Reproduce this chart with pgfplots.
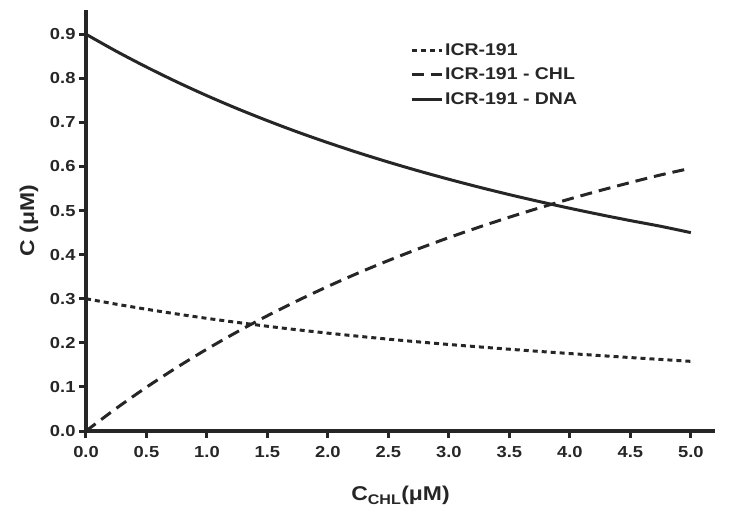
\documentclass[border=0pt]{standalone}
\usepackage{fontspec}
\setmainfont{Liberation Sans}[FakeStretch=1.15]
\usepackage{pgfplots}
\pgfplotsset{compat=1.18}
\definecolor{ink}{HTML}{262626}
\begin{document}
\begin{tikzpicture}
\useasboundingbox (-86bp,-85bp) rectangle (664bp,431bp);
\begin{axis}[
  scale only axis, width=629bp, height=421bp,
  xmin=0, xmax=5.2, ymin=0, ymax=0.955,
  axis lines=left, axis line style={-, line width=4.5bp, ink},
  xtick={0,0.5,...,5.0}, ytick={0,0.1,...,0.9},
  tick align=outside, major tick length=7bp,
  tick style={line width=3bp, ink},
  minor tick num=0,
  /pgf/number format/assume math mode=true,
  xticklabel style={font=\fontsize{16}{19}\selectfont\bfseries, text=ink, yshift=-5bp, /pgf/number format/.cd, fixed, fixed zerofill, precision=1},
  yticklabel style={font=\fontsize{16}{19}\selectfont\bfseries, text=ink, /pgf/number format/.cd, fixed, fixed zerofill, precision=1},
  xlabel={C\textsubscript{CHL}(μM)},
  ylabel={C (μM)},
  xlabel style={at={(axis description cs:0.5,-0.154)}, anchor=center, font=\fontsize{20}{24}\selectfont\bfseries, text=ink},
  ylabel style={at={(axis description cs:-0.0906,0.5)}, anchor=center, font=\fontsize{20}{24}\selectfont\bfseries, text=ink},
  legend style={draw=none, fill=none, at={(axis description cs:0.515,0.925)}, anchor=north west,
    font=\fontsize{17}{20}\selectfont\bfseries, text=ink, row sep=7bp, inner sep=0pt},
  legend cell align=left,
  legend image code/.code={\draw[#1] (0bp,0bp) -- (30bp,0bp);},
  clip=false,
]
\addplot[ink, line width=3bp, dash pattern=on 5bp off 4bp, smooth] coordinates {
(0,0.300) (0.25,0.2877) (0.5,0.2762) (0.75,0.2655) (1.0,0.2555) (1.25,0.2463)
(1.5,0.2376) (1.75,0.2295) (2.0,0.2220) (2.25,0.2150) (2.5,0.2083) (2.75,0.2021)
(3.0,0.1963) (3.25,0.1908) (3.5,0.1855) (3.75,0.1805) (4.0,0.1757) (4.25,0.1711)
(4.5,0.1666) (4.75,0.1623) (5.0,0.1580)};
\addlegendentry{ICR-191}
\addplot[ink, line width=3bp, dash pattern=on 12bp off 7bp, smooth] coordinates {
(0,0.000) (0.25,0.0513) (0.5,0.0993) (0.75,0.1440) (1.0,0.1858) (1.25,0.2249)
(1.5,0.2615) (1.75,0.2958) (2.0,0.3280) (2.25,0.3583) (2.5,0.3867) (2.75,0.4135)
(3.0,0.4387) (3.25,0.4625) (3.5,0.4850) (3.75,0.5063) (4.0,0.5264) (4.25,0.5455)
(4.5,0.5636) (4.75,0.5808) (5.0,0.5960)};
\addlegendentry{ICR-191 - CHL}
\addplot[ink, line width=3bp, smooth] coordinates {
(0,0.900) (0.25,0.8615) (0.5,0.8256) (0.75,0.7920) (1.0,0.7606) (1.25,0.7313)
(1.5,0.7039) (1.75,0.6781) (2.0,0.6540) (2.25,0.6313) (2.5,0.6100) (2.75,0.5899)
(3.0,0.5710) (3.25,0.5531) (3.5,0.5362) (3.75,0.5203) (4.0,0.5052) (4.25,0.4909)
(4.5,0.4773) (4.75,0.4644) (5.0,0.4500)};
\addlegendentry{ICR-191 - DNA}
\end{axis}
\end{tikzpicture}
\end{document}
